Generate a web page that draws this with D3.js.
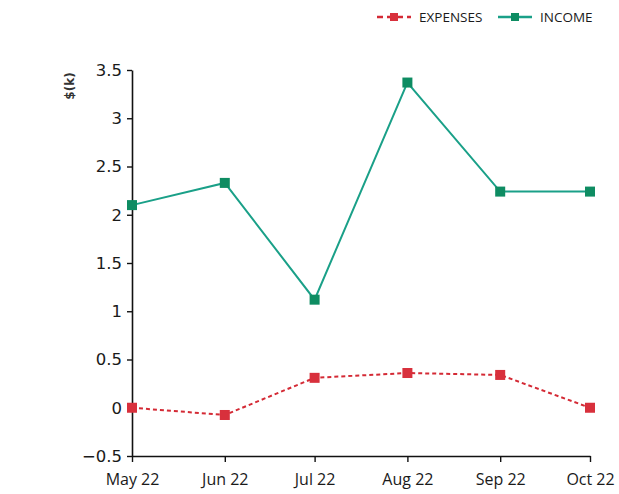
<!DOCTYPE html>
<html>
<head>
<meta charset="utf-8">
<script src="https://cdn.jsdelivr.net/npm/d3@7"></script>
<style>
  body { margin: 0; background: #fff; }
  svg { display: block; }
</style>
</head>
<body>
<div id="chart"></div>
<script>
const months = ["2022-05-01", "2022-06-01", "2022-07-01", "2022-08-01", "2022-09-01", "2022-10-01"];
const monthLabels = ["May 22", "Jun 22", "Jul 22", "Aug 22", "Sep 22", "Oct 22"];
const income = [2.10, 2.33, 1.12, 3.37, 2.24, 2.24];
const expenses = [0.0, -0.075, 0.31, 0.36, 0.34, 0.0];
const yTicks = [-0.5, 0, 0.5, 1, 1.5, 2, 2.5, 3, 3.5];

const W = 619, H = 494;
const margin = { top: 70, right: 29, bottom: 38, left: 132 };
const width = W - margin.left - margin.right;
const height = H - margin.top - margin.bottom;

const parse = d3.timeParse("%Y-%m-%d");
const dates = months.map(parse);

const svg = d3.select("#chart").append("svg")
    .attr("width", W)
    .attr("height", H);

const g = svg.append("g")
    .attr("transform", `translate(${margin.left},${margin.top})`);

// time scale, so month spacing follows days like the original
const x = d3.scaleTime()
    .domain(d3.extent(dates))
    .range([0, width]);

const y = d3.scaleLinear()
    .domain([-0.5, 3.5])
    .range([height, 0]);

// axes
const xAxis = g.append("g")
    .attr("transform", `translate(0,${height})`)
    .call(d3.axisBottom(x).tickValues(dates).tickFormat((d, i) => monthLabels[i]).tickSize(6).tickSizeOuter(0).tickPadding(12));
xAxis.select(".domain").attr("stroke", "#111").attr("stroke-width", 1.6);
xAxis.selectAll(".tick line").attr("stroke", "#111").attr("stroke-width", 1.4);
xAxis.selectAll("text")
    .style("font-family", "'Open Sans', 'DejaVu Sans', sans-serif")
    .style("font-size", "16px")
    .attr("fill", "#1a1a1a");

const yAxis = g.append("g")
    .call(d3.axisLeft(y).tickValues(yTicks).tickFormat(d3.format("")).tickSize(5).tickSizeOuter(0).tickPadding(5));
yAxis.select(".domain").attr("stroke", "#111").attr("stroke-width", 1.6);
yAxis.selectAll(".tick line").attr("stroke", "#111").attr("stroke-width", 1.4);
yAxis.selectAll("text")
    .style("font-family", "'DejaVu Sans', sans-serif")
    .style("font-size", "16.5px")
    .attr("fill", "#1a1a1a");

// y axis title
svg.append("text")
    .attr("transform", "translate(74,86) rotate(-90)")
    .attr("text-anchor", "middle")
    .style("font-family", "'DejaVu Sans', sans-serif")
    .style("font-size", "12px")
    .style("font-weight", "bold")
    .attr("fill", "#333")
    .text("$(k)");

const series = [
    { name: "EXPENSES", values: expenses, color: "#d42a35", marker: "#d8303c", dash: "4,3" },
    { name: "INCOME", values: income, color: "#1aa088", marker: "#0e8c62", dash: null }
];

const line = d3.line()
    .x((d, i) => x(dates[i]))
    .y(d => y(d));

series.forEach(s => {
    g.append("path")
        .datum(s.values)
        .attr("fill", "none")
        .attr("stroke", s.color)
        .attr("stroke-width", 2)
        .attr("stroke-dasharray", s.dash)
        .attr("d", line);

    g.selectAll(null)
        .data(s.values)
        .enter()
        .append("rect")
        .attr("x", (d, i) => x(dates[i]) - 5)
        .attr("y", d => y(d) - 5)
        .attr("width", 10)
        .attr("height", 10)
        .attr("fill", s.marker);
});

// legend
const legendX = [377, 498];
series.forEach((s, i) => {
    const lg = svg.append("g")
        .attr("transform", `translate(${legendX[i]},17)`);
    lg.append("line")
        .attr("x1", 0).attr("x2", 34)
        .attr("stroke", s.color)
        .attr("stroke-width", 2.5)
        .attr("stroke-dasharray", s.dash ? "6,4" : null);
    lg.append("rect")
        .attr("x", 13).attr("y", -4)
        .attr("width", 8).attr("height", 8)
        .attr("fill", s.marker);
    lg.append("text")
        .attr("x", 42)
        .attr("y", 5)
        .style("font-family", "'Open Sans', sans-serif")
        .style("font-size", "13.5px")
        .attr("fill", "#1a1a1a")
        .text(s.name);
});
</script>
</body>
</html>
